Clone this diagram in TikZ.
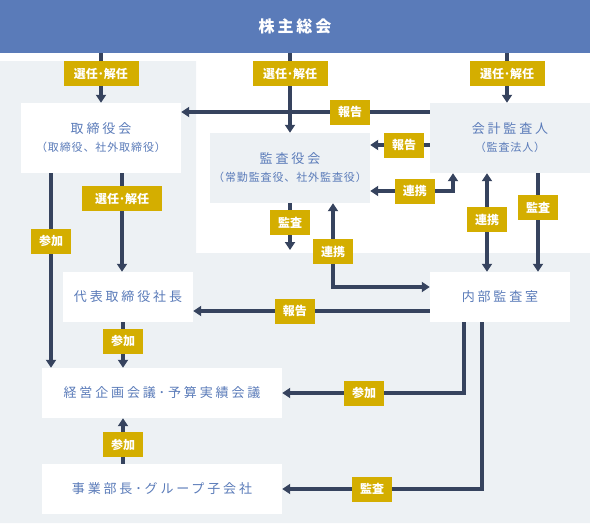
\documentclass[tikz,border=0pt]{standalone}
\usepackage{fontspec}
\setmainfont{Noto Sans CJK JP}
\usetikzlibrary{arrows.meta}

\definecolor{topblue}{HTML}{5A7BB9}
\definecolor{bggray}{HTML}{EDF1F4}
\definecolor{navy}{HTML}{36435E}
\definecolor{gold}{HTML}{D4AE00}
\definecolor{txtblue}{HTML}{5A7BB9}

\newcommand{\subtxt}{\fontsize{11}{12}\selectfont\addfontfeature{LetterSpace=8}}

\tikzstyle{whitebox}=[rectangle, fill=white, text=txtblue, align=center, inner sep=0pt, font=\fontsize{13}{18}\selectfont\addfontfeature{LetterSpace=22}]
\tikzstyle{graybox}=[whitebox, fill=bggray]
\tikzstyle{tag}=[rectangle, fill=gold, text=white, minimum width=40, minimum height=25, inner sep=0pt, font=\fontsize{12}{12}\selectfont\bfseries]
\tikzstyle{arr}=[draw=navy, line width=3.2pt, -{Triangle[width=10pt,length=8pt]}]
\tikzstyle{dblarr}=[arr, {Triangle[width=10pt,length=8pt]}-{Triangle[width=10pt,length=8pt]}]

\begin{document}
\begin{tikzpicture}[x=1pt, y=-1pt]
\useasboundingbox (0,0) rectangle (590,523);

% background areas
\fill[bggray] (0,61) -- (196,61) -- (196,253) -- (590,253) -- (590,523) -- (0,523) -- cycle;

\node [fill=topblue, minimum width=590, minimum height=53, inner sep=0pt, text=white, font=\fontsize{16}{16}\selectfont\bfseries\addfontfeature{LetterSpace=18}] (kabunushi) at (295,26.5) {株主総会};

\node [whitebox, minimum width=160, minimum height=70] (torishimari) at (101,138) {取締役会\\{\subtxt （取締役、社外取締役）}};
\node [graybox, minimum width=160, minimum height=70] (kansayaku) at (290,168) {監査役会\\{\subtxt （常勤監査役、社外監査役）}};
\node [graybox, minimum width=160, minimum height=70] (kaikei) at (510,138) {会計監査人\\{\subtxt （監査法人）}};
\node [whitebox, minimum width=130, minimum height=50] (shacho) at (128,297) {代表取締役社長};
\node [whitebox, minimum width=140, minimum height=50] (naibu) at (500,297) {内部監査室};
\node [whitebox, minimum width=240, minimum height=50] (keiei) at (162,393) {経営企画会議･予算実績会議};
\node [whitebox, minimum width=240, minimum height=50] (jigyo) at (162,489) {事業部長･グループ子会社};
\coordinate (kansaend) at (290,250);

% from the shareholders
\draw [arr] ([xshift=-194pt]kabunushi.south) -- (torishimari.north) node[tag, minimum width=75, pos=0.41] {選任･解任};
\draw [arr] (kabunushi.south -| kansayaku.north) -- (kansayaku.north) node[tag, minimum width=75, pos=0.26] {選任･解任};
\draw [arr] ([xshift=212pt]kabunushi.south) -- ([xshift=-3pt]kaikei.north) node[tag, minimum width=75, pos=0.41] {選任･解任};

% accounting auditor
\draw [arr] ([yshift=26pt]kaikei.west) -- ([yshift=26pt]torishimari.east) node[tag, pos=0.32] {報告};
\draw [arr] ([yshift=-7pt]kaikei.west) -- ([yshift=23pt]kansayaku.east) node[tag, pos=0.43] {報告};
\draw [dblarr] ([xshift=-57pt]kaikei.south) |- ([yshift=-23pt]kansayaku.east) node[tag, pos=0.73] {連携};
\draw [dblarr] ([xshift=-23pt]kaikei.south) -- ([xshift=-13pt]naibu.north) node[tag, pos=0.47] {連携};
\draw [arr] ([xshift=28pt]kaikei.south) -- ([xshift=38pt]naibu.north) node[tag, pos=0.35] {監査};

% audit board
\draw [arr] (kansayaku.south) -- (kansaend) node[tag, pos=0.41] {監査};
\draw [dblarr] ([xshift=43pt]kansayaku.south) |- ([yshift=10pt]naibu.west) node[tag, pos=0.29] {連携};

% board of directors
\draw [arr] ([xshift=21pt]torishimari.south) -- ([xshift=-6pt]shacho.north) node[tag, minimum width=80, pos=0.26] {選任･解任};
\draw [arr] ([xshift=-50pt]torishimari.south) -- ([xshift=-111pt]keiei.north) node[tag, pos=0.35] {参加};

% internal audit and the rest
\draw [arr] ([yshift=-14pt]naibu.west) -- ([yshift=-14pt]shacho.east) node[tag, pos=0.57] {報告};
\draw [arr] ([xshift=-5pt]shacho.south) -- ([xshift=-39pt]keiei.north) node[tag, pos=0.42] {参加};
\draw [arr] ([xshift=-39pt]jigyo.north) -- ([xshift=-39pt]keiei.south) node[tag, pos=0.42] {参加};
\draw [arr] ([xshift=-36pt]naibu.south) |- (keiei.east) node[tag, pos=0.775] {参加};
\draw [arr] ([xshift=-18pt]naibu.south) |- (jigyo.east) node[tag, pos=0.775] {監査};
\end{tikzpicture}
\end{document}
